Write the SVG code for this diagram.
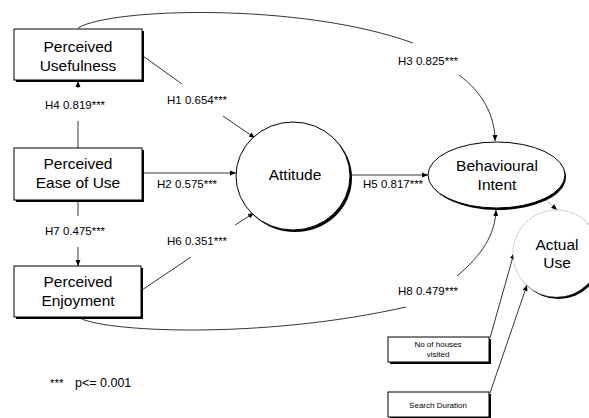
<svg xmlns="http://www.w3.org/2000/svg" width="589" height="418" viewBox="0 0 589 418">
<style>
text{font-family:"Liberation Sans",Arial,sans-serif;fill:#000}
.n{font-size:15.5px;text-anchor:middle}
.l{font-size:11.5px}
.s{font-size:8px;text-anchor:middle}
.box{fill:#fff;stroke:#000;stroke-width:1}
.sh{fill:#000}
.c{fill:none;stroke:#000;stroke-width:0.8}
.a{marker-end:url(#ah)}
</style>
<defs>
<marker id="ah" markerWidth="7" markerHeight="6" refX="6" refY="3" orient="auto" markerUnits="userSpaceOnUse">
<path d="M0,0.5 L6,3 L0,5.5 z" fill="#000"/>
</marker>
</defs>
<rect width="589" height="418" fill="#fff"/>

<g id="connectors">
<path class="c" d="M78,28 C110,8 300,2 413,43"/>
<path class="c a" d="M459,75 C482,92 495,115 495,141"/>
<text class="l" x="398" y="65">H3 0.825***</text>

<path class="c" d="M78,317 C100,332 260,340 406,307"/>
<path class="c a" d="M457,276 C482,255 495,235 496,210"/>
<text class="l" x="398" y="295">H8 0.479***</text>

<path class="c" d="M143,56 L182,84"/>
<path class="c a" d="M223,116 L255,138"/>
<text class="l" x="167" y="104">H1 0.654***</text>

<path class="c a" d="M143,173 L236,173"/>
<text class="l" x="157" y="188">H2 0.575***</text>

<path class="c" d="M142,290 L191,257"/>
<path class="c a" d="M235,225 L254,213"/>
<text class="l" x="167" y="245">H6 0.351***</text>

<path class="c" d="M78,148 L78,121"/>
<path class="c a" d="M78,88 L78,81"/>
<text class="l" x="45" y="109">H4 0.819***</text>

<path class="c" d="M78,201 L78,216"/>
<path class="c a" d="M78,247 L78,266"/>
<text class="l" x="45" y="235">H7 0.475***</text>

<path class="c a" d="M350,175 L428,175"/>
<text class="l" x="363" y="188">H5 0.817***</text>

<path class="c a" d="M546,200 L557,210" style="stroke:#777;stroke-width:0.7;stroke-dasharray:2 1"/>

<path class="c a" d="M490,338 L514,253"/>
<path class="c a" d="M490,393 L527,285"/>
</g>

<g id="perceived-usefulness">
<rect class="sh" x="16" y="31" width="128" height="51"/>
<rect class="box" x="14" y="29" width="128" height="51"/>
<text class="n" x="78" y="52">Perceived</text>
<text class="n" x="78" y="71">Usefulness</text>
</g>

<g id="perceived-ease-of-use">
<rect class="sh" x="16" y="150" width="128" height="52"/>
<rect class="box" x="14" y="148" width="128" height="52"/>
<text class="n" x="78" y="169">Perceived</text>
<text class="n" x="78" y="188">Ease of Use</text>
</g>

<g id="perceived-enjoyment">
<rect class="sh" x="16" y="268" width="127" height="51"/>
<rect class="box" x="14" y="266" width="127" height="51"/>
<text class="n" x="78" y="287">Perceived</text>
<text class="n" x="78" y="306">Enjoyment</text>
</g>

<g id="attitude">
<ellipse class="sh" cx="295" cy="178" rx="57" ry="54"/>
<ellipse class="box" cx="293" cy="176" rx="57" ry="54"/>
<text class="n" x="295" y="180">Attitude</text>
</g>

<g id="behavioural-intent">
<ellipse class="sh" cx="498" cy="177" rx="68" ry="33"/>
<ellipse class="box" cx="496.5" cy="175" rx="68.5" ry="33"/>
<text class="n" x="497" y="171">Behavioural</text>
<text class="n" x="497" y="190">Intent</text>
</g>

<g id="actual-use">
<circle class="sh" cx="558.5" cy="255.5" r="43.5"/>
<circle cx="556.5" cy="253.5" r="43.5" fill="#fff" stroke="#888" stroke-width="0.7" stroke-dasharray="1.5 1"/>
<text class="n" x="557" y="250">Actual</text>
<text class="n" x="557" y="268">Use</text>
</g>

<g id="no-of-houses-visited">
<rect class="sh" x="390" y="339" width="101" height="25"/>
<rect class="box" x="388" y="337" width="101" height="25"/>
<text class="s" x="438" y="347">No of houses</text>
<text class="s" x="438" y="357">visited</text>
</g>

<g id="search-duration">
<rect class="sh" x="390" y="394" width="101" height="25"/>
<rect class="box" x="388" y="392" width="101" height="25"/>
<text class="s" x="438" y="408">Search Duration</text>
</g>

<g id="legend">
<text class="l" x="50" y="387">***</text>
<text x="75" y="387" style="font-size:12.5px">p&lt;= 0.001</text>
</g>
</svg>
